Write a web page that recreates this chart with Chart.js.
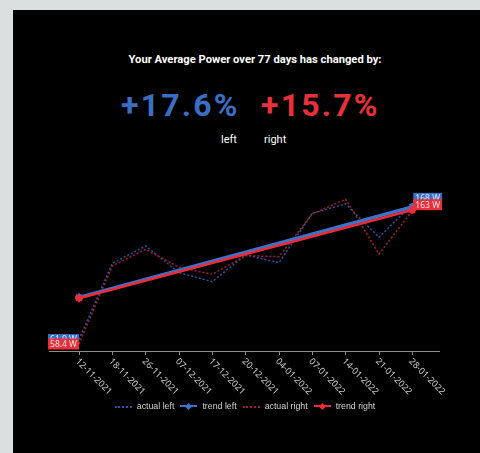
<!DOCTYPE html>
<html>
<head>
<meta charset="utf-8">
<script src="https://cdn.jsdelivr.net/npm/chart.js@4.4.1/dist/chart.umd.min.js"></script>
<style>
  body { margin: 0; width: 480px; height: 453px; overflow: hidden; background: #dcdfe0; font-family: Roboto, sans-serif; }
  #panel { position: absolute; left: 13px; top: 10px; right: 0; bottom: 0; background: #000; }
  .txt { position: absolute; white-space: nowrap; }
  #title { left: 55px; width: 400px; top: 54px; text-align: center; color: #fff; font-size: 11.2px; font-weight: 700; line-height: 12px; }
  .big { top: 89px; font-size: 32px; font-weight: 700; line-height: 32px; letter-spacing: 2.2px; }
  .sub { top: 134px; color: #fff; font-size: 11px; line-height: 11px; }
  #chart { position: absolute; left: 0; top: 0; }
  #legend { position: absolute; left: 0; width: 490px; top: 401px; display: flex; justify-content: center; align-items: center;
            font-family: "Liberation Sans", Arial, sans-serif; font-size: 8.8px; color: #d2d2d2; }
  .item { display: flex; align-items: center; margin: 0 3px; }
  .sample { position: relative; width: 17px; height: 9px; margin-right: 5px; }
  .dots { position: absolute; left: 0; right: 0; top: 4px; border-top: 2px dotted; }
  .solid { position: absolute; left: 0; right: 0; top: 3px; height: 2.5px; }
  .mark { position: absolute; left: 6px; top: 2px; width: 5px; height: 5px; transform: rotate(45deg); }
</style>
</head>
<body>
<div id="panel"></div>
<div id="title" class="txt">Your Average Power over 77 days has changed by:</div>
<div class="txt big" style="left:121px;color:#3a6ec4">+17.6%</div>
<div class="txt big" style="left:261px;color:#e8303a">+15.7%</div>
<div class="txt sub" style="left:221px">left</div>
<div class="txt sub" style="left:264px">right</div>
<canvas id="chart" width="480" height="453"></canvas>
<div id="legend">
  <div class="item"><div class="sample"><div class="dots" style="color:#2d55a6"></div></div>actual left</div>
  <div class="item"><div class="sample"><div class="solid" style="background:#3b74cf"></div><div class="mark" style="background:#3b74cf"></div></div>trend left</div>
  <div class="item"><div class="sample"><div class="dots" style="color:#a3202c"></div></div>actual right</div>
  <div class="item"><div class="sample"><div class="solid" style="background:#ee2b36"></div><div class="mark" style="background:#ee2b36"></div></div>trend right</div>
</div>
<script>
// dates on the x axis
const labels = ['12-11-2021', '18-11-2021', '26-11-2021', '07-12-2021', '17-12-2021', '20-12-2021',
                '04-01-2022', '07-01-2022', '14-01-2022', '21-01-2022', '28-01-2022'];
// average power (W)
const actualLeft  = [61.9, 121.7, 135.3, 114.4, 107.3, 128.3, 122.2, 161.0, 168.3, 142.2, 168.0];
const actualRight = [58.4, 119.6, 132.7, 118.6, 113.1, 127.7, 126.9, 160.5, 172.0, 129.1, 163.0];
// trend lines: first and last value only
const trendLeft  = [95.0, 166.0];
const trendRight = [94.3, 163.6];

const BLUE = '#3b74cf', RED = '#ee2b36';

function pts(arr) { return arr.map((v, i) => ({x: i, y: v})); }
function ends(arr) { return [{x: 0, y: arr[0]}, {x: labels.length - 1, y: arr[1]}]; }

// value boxes at first and last point of the actual lines
const valueBoxes = {
  id: 'valueBoxes',
  afterDatasetsDraw(chart) {
    const ctx = chart.ctx;
    ctx.save();
    ctx.font = '8.5px "Noto Sans"';
    ctx.textBaseline = 'middle';
    [[0, '#3b6ec6', '#e3eaf8'], [1, '#e8303a', '#fbe3e3']].forEach(([di, bg, fg]) => {
      const meta = chart.getDatasetMeta(di);
      const data = chart.data.datasets[di].data;
      [0, data.length - 1].forEach(k => {
        const p = meta.data[k];
        const txt = Number(data[k].y.toPrecision(3)) + ' W';
        const w = ctx.measureText(txt).width + 4, h = 11;
        let bx, cy;
        if (k === 0) { bx = p.x - w; cy = p.y; } else { bx = p.x + 1; cy = p.y - 6; }
        ctx.fillStyle = bg;
        ctx.fillRect(bx, cy - h / 2, w, h);
        ctx.fillStyle = fg;
        ctx.textAlign = 'left';
        ctx.fillText(txt, bx + 2, cy + 0.5);
      });
    });
    ctx.restore();
  }
};

// rotated date labels, reading down to the right from each tick
const dateTicks = {
  id: 'dateTicks',
  afterDraw(chart) {
    const ctx = chart.ctx, xs = chart.scales.x;
    ctx.save();
    ctx.font = '9px "Noto Sans"';
    ctx.fillStyle = '#cfcfcf';
    ctx.textAlign = 'left';
    ctx.textBaseline = 'middle';
    labels.forEach((lab, i) => {
      ctx.save();
      ctx.translate(xs.getPixelForValue(i) - 2, xs.bottom + 5);
      ctx.rotate(Math.PI / 4);
      ctx.fillText(lab, 0, 0);
      ctx.restore();
    });
    ctx.restore();
  }
};

new Chart(document.getElementById('chart'), {
  type: 'line',
  data: {
    datasets: [
      { label: 'actual left', data: pts(actualLeft), borderColor: '#2d55a6', borderWidth: 1.5,
        borderDash: [2, 2], pointRadius: 0, order: 3 },
      { label: 'actual right', data: pts(actualRight), borderColor: '#a3202c', borderWidth: 1.5,
        borderDash: [2, 2], pointRadius: 0, order: 2 },
      { label: 'trend left', data: ends(trendLeft), borderColor: BLUE, backgroundColor: BLUE, borderWidth: 3.5,
        pointStyle: 'star', pointRadius: 4, pointBorderWidth: 2, order: 1 },
      { label: 'trend right', data: ends(trendRight), borderColor: RED, backgroundColor: RED, borderWidth: 2.5,
        pointStyle: 'star', pointRadius: 4, pointBorderWidth: 2, order: 0 }
    ]
  },
  options: {
    responsive: false,
    animation: false,
    devicePixelRatio: 1,
    layout: { padding: { left: 49, right: 41, top: 180, bottom: 98 } },
    plugins: { legend: { display: false }, tooltip: { enabled: false } },
    scales: {
      x: {
        type: 'linear', min: -0.9, max: 10.8,
        afterBuildTicks: s => { s.ticks = labels.map((_, i) => ({value: i})); },
        ticks: { display: false },
        grid: { drawOnChartArea: false, drawTicks: true, tickLength: 4, color: '#8c8c8c' },
        border: { color: '#8c8c8c', width: 1 }
      },
      y: { display: false, min: 52.9, max: 187.1 }
    }
  },
  plugins: [valueBoxes, dateTicks]
});
</script>
</body>
</html>
